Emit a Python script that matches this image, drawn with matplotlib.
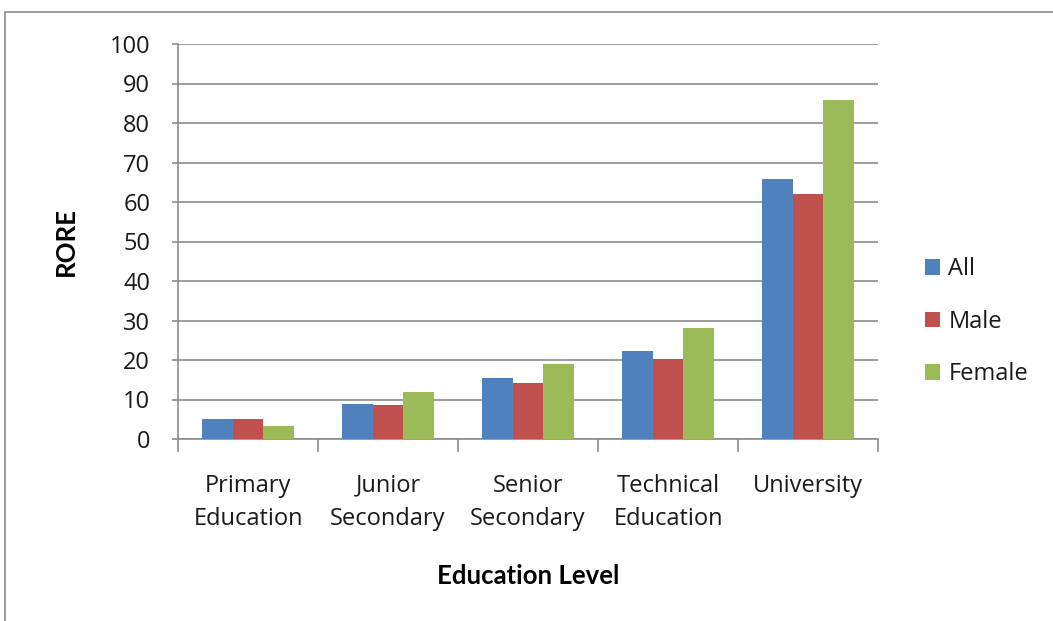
import matplotlib
matplotlib.use("Agg")
import matplotlib.pyplot as plt
from matplotlib.patches import Rectangle
import numpy as np

categories = ["Primary\nEducation", "Junior\nSecondary", "Senior\nSecondary",
              "Technical\nEducation", "University"]
series_names = ["All", "Male", "Female"]
all_vals = [5.0, 8.9, 15.5, 22.4, 65.8]
male_vals = [5.0, 8.6, 14.2, 20.2, 62.0]
female_vals = [3.3, 12.0, 19.1, 28.0, 85.9]
colors = ["#4F81BD", "#C0504D", "#9BBB59"]
y_ticks = list(range(0, 101, 10))

plt.rcParams["font.family"] = ["Open Sans", "DejaVu Sans"]
title_font = {"family": ["Lato", "DejaVu Sans"], "weight": "bold", "size": 18.5}

fig = plt.figure(figsize=(10.53, 6.21), dpi=100)
fig.patches.append(Rectangle((5 / 1053, -0.1), 1.2, 1 - 12 / 621 + 0.1,
                             transform=fig.transFigure, fill=False,
                             edgecolor="#8c8c8c", linewidth=1.2))

ax = fig.add_axes([178 / 1053, 1 - 439 / 621, 700 / 1053, 395 / 621])
x = np.arange(len(categories))
w = 0.22
for i, (vals, name) in enumerate(zip([all_vals, male_vals, female_vals], series_names)):
    ax.bar(x + (i - 1) * w, vals, width=w, color=colors[i], label=name, zorder=3)

ax.set_xlim(-0.5, len(categories) - 0.5)
ax.set_ylim(0, 100)
ax.set_yticks(y_ticks)
ax.set_yticklabels([str(t) for t in y_ticks], fontsize=17, color="#1a1a1a")
ax.yaxis.grid(True, color="#8c8c8c", linewidth=1.2, zorder=0)
ax.set_axisbelow(True)

ax.set_xticks(x)
ax.set_xticklabels(categories, fontsize=17, linespacing=1.5, color="#1a1a1a")
ax.tick_params(axis="x", length=0, pad=25)
ax.set_xticks(np.arange(-0.5, len(categories)), minor=True)
ax.tick_params(axis="x", which="minor", length=9, color="#8c8c8c", width=1.2)
ax.tick_params(axis="y", length=4, color="#8c8c8c", width=1.2, pad=16)

for s in ["top", "right"]:
    ax.spines[s].set_visible(False)
ax.spines["left"].set_color("#8c8c8c")
ax.spines["bottom"].set_color("#8c8c8c")
ax.spines["left"].set_linewidth(1.2)
ax.spines["bottom"].set_linewidth(1.2)

ax.set_ylabel("RORE", fontdict=title_font, labelpad=23)
ax.set_xlabel("Education Level", fontdict=title_font, labelpad=24)

leg = ax.legend(loc="center left", bbox_to_anchor=(1.037, 0.297), frameon=False,
                fontsize=17, handlelength=0.64, handleheight=0.64, handletextpad=0.34,
                labelspacing=1.2)
for t in leg.get_texts():
    t.set_color("#1a1a1a")

fig.savefig("out.png", dpi=100, facecolor="white")
